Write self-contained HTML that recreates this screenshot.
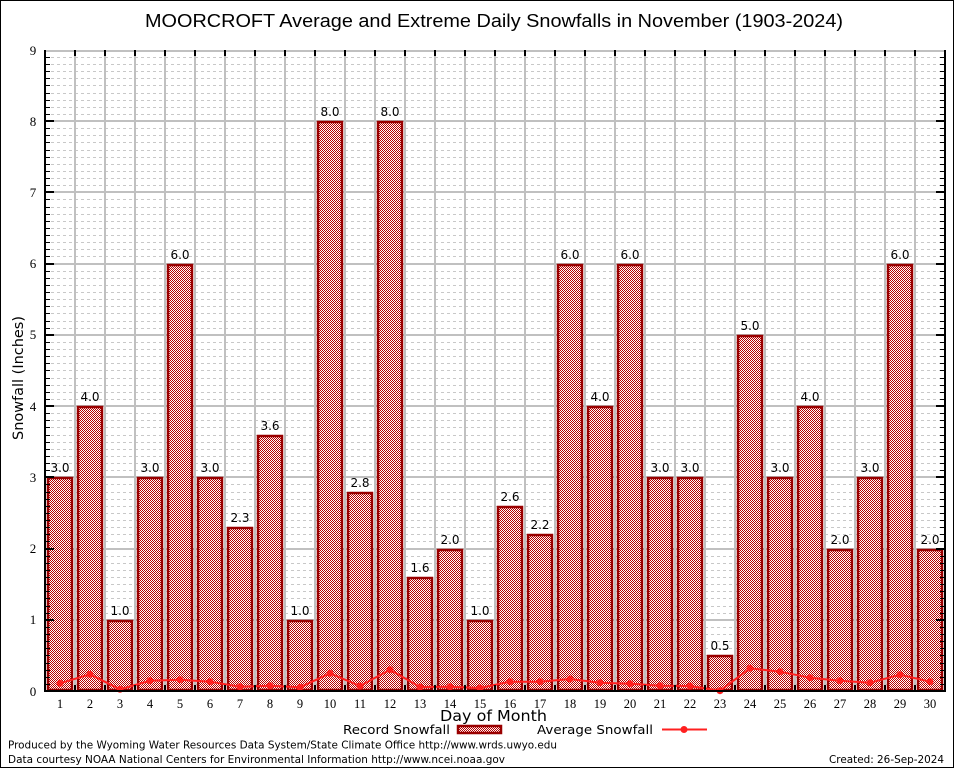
<!DOCTYPE html>
<html><head><meta charset="utf-8"><style>
html,body{margin:0;padding:0;background:#fff;}
svg{display:block;}
</style></head><body>
<svg width="954" height="768" viewBox="0 0 954 768" xmlns="http://www.w3.org/2000/svg">
<defs>
<pattern id="p" width="2" height="2" patternUnits="userSpaceOnUse">
<rect width="2" height="2" fill="#ffffff" shape-rendering="crispEdges"/>
<rect width="1" height="1" fill="#b80000" shape-rendering="crispEdges"/>
<rect x="1" y="1" width="1" height="1" fill="#b80000" shape-rendering="crispEdges"/>
</pattern>
</defs>
<rect x="0" y="0" width="954" height="768" fill="#fff"/>
<rect x="0.5" y="0.5" width="953" height="767" fill="none" stroke="#000" stroke-width="1"/>
<text x="494" y="27" text-anchor="middle" font-family="Liberation Sans, sans-serif" font-size="18.5" textLength="698" lengthAdjust="spacingAndGlyphs" fill="#000">MOORCROFT Average and Extreme Daily Snowfalls in November (1903-2024)</text>

<!-- dashed minor grid -->
<path fill="none" stroke="#c8c8c8" stroke-width="1" stroke-dasharray="3,3" d="
M45 684.5H945M45 677.5H945M45 670.5H945M45 663.5H945M45 655.5H945M45 648.5H945M45 641.5H945M45 634.5H945M45 627.5H945
M45 613.5H945M45 606.5H945M45 598.5H945M45 591.5H945M45 584.5H945M45 577.5H945M45 570.5H945M45 563.5H945M45 556.5H945
M45 541.5H945M45 534.5H945M45 527.5H945M45 520.5H945M45 513.5H945M45 506.5H945M45 499.5H945M45 492.5H945M45 484.5H945
M45 470.5H945M45 463.5H945M45 456.5H945M45 449.5H945M45 442.5H945M45 435.5H945M45 427.5H945M45 420.5H945M45 413.5H945
M45 399.5H945M45 392.5H945M45 385.5H945M45 378.5H945M45 370.5H945M45 363.5H945M45 356.5H945M45 349.5H945M45 342.5H945
M45 328.5H945M45 321.5H945M45 313.5H945M45 306.5H945M45 299.5H945M45 292.5H945M45 285.5H945M45 278.5H945M45 271.5H945
M45 256.5H945M45 249.5H945M45 242.5H945M45 235.5H945M45 228.5H945M45 221.5H945M45 214.5H945M45 207.5H945M45 199.5H945
M45 185.5H945M45 178.5H945M45 171.5H945M45 164.5H945M45 157.5H945M45 150.5H945M45 142.5H945M45 135.5H945M45 128.5H945
M45 114.5H945M45 107.5H945M45 100.5H945M45 93.5H945M45 85.5H945M45 78.5H945M45 71.5H945M45 64.5H945M45 57.5H945"/>
<!-- solid major grid -->
<path fill="none" stroke="#c0c0c0" stroke-width="2" d="
M45 620H945M45 549H945M45 477H945M45 406H945M45 335H945M45 264H945M45 192H945M45 121H945M45 51H945
M75 50V691M105 50V691M135 50V691M165 50V691M195 50V691M225 50V691M255 50V691M285 50V691M315 50V691M345 50V691
M375 50V691M405 50V691M435 50V691M465 50V691M495 50V691M525 50V691M555 50V691M585 50V691M615 50V691M645 50V691
M675 50V691M705 50V691M735 50V691M765 50V691M795 50V691M825 50V691M855 50V691M885 50V691M915 50V691"/>

<!-- bars -->
<g fill="url(#p)" stroke="#990000" stroke-width="2.5">
<rect x="48" y="478" width="24" height="212"/>
<rect x="78" y="407" width="24" height="283"/>
<rect x="108" y="621" width="24" height="69"/>
<rect x="138" y="478" width="24" height="212"/>
<rect x="168" y="265" width="24" height="425"/>
<rect x="198" y="478" width="24" height="212"/>
<rect x="228" y="528" width="24" height="162"/>
<rect x="258" y="436" width="24" height="254"/>
<rect x="288" y="621" width="24" height="69"/>
<rect x="318" y="122" width="24" height="568"/>
<rect x="348" y="493" width="24" height="197"/>
<rect x="378" y="122" width="24" height="568"/>
<rect x="408" y="578" width="24" height="112"/>
<rect x="438" y="550" width="24" height="140"/>
<rect x="468" y="621" width="24" height="69"/>
<rect x="498" y="507" width="24" height="183"/>
<rect x="528" y="535" width="24" height="155"/>
<rect x="558" y="265" width="24" height="425"/>
<rect x="588" y="407" width="24" height="283"/>
<rect x="618" y="265" width="24" height="425"/>
<rect x="648" y="478" width="24" height="212"/>
<rect x="678" y="478" width="24" height="212"/>
<rect x="708" y="656" width="24" height="34"/>
<rect x="738" y="336" width="24" height="354"/>
<rect x="768" y="478" width="24" height="212"/>
<rect x="798" y="407" width="24" height="283"/>
<rect x="828" y="550" width="24" height="140"/>
<rect x="858" y="478" width="24" height="212"/>
<rect x="888" y="265" width="24" height="425"/>
<rect x="918" y="550" width="24" height="140"/>
</g>

<!-- value labels -->
<g font-family="DejaVu Sans, sans-serif" font-size="12" text-anchor="middle" fill="#000">
<text x="60" y="472">3.0</text>
<text x="90" y="401">4.0</text>
<text x="120" y="615">1.0</text>
<text x="150" y="472">3.0</text>
<text x="180" y="259">6.0</text>
<text x="210" y="472">3.0</text>
<text x="240" y="522">2.3</text>
<text x="270" y="430">3.6</text>
<text x="300" y="615">1.0</text>
<text x="330" y="116">8.0</text>
<text x="360" y="487">2.8</text>
<text x="390" y="116">8.0</text>
<text x="420" y="572">1.6</text>
<text x="450" y="544">2.0</text>
<text x="480" y="615">1.0</text>
<text x="510" y="501">2.6</text>
<text x="540" y="529">2.2</text>
<text x="570" y="259">6.0</text>
<text x="600" y="401">4.0</text>
<text x="630" y="259">6.0</text>
<text x="660" y="472">3.0</text>
<text x="690" y="472">3.0</text>
<text x="720" y="650">0.5</text>
<text x="750" y="330">5.0</text>
<text x="780" y="472">3.0</text>
<text x="810" y="401">4.0</text>
<text x="840" y="544">2.0</text>
<text x="870" y="472">3.0</text>
<text x="900" y="259">6.0</text>
<text x="930" y="544">2.0</text>
</g>

<!-- average line -->
<polyline fill="none" stroke="#ff2020" stroke-width="2" stroke-linejoin="round" points="60,683.3 90,674.3 120,689.3 150,680.7 180,679.7 210,681.7 240,686.7 270,685.7 300,687.3 330,673.3 360,686 390,669.7 420,687 450,686.7 480,688 510,681.7 540,681.7 570,679 600,682.7 630,683.7 660,685.7 690,686 720,690.7 750,668.3 780,671.7 810,677.7 840,680.7 870,682.7 900,674.7 930,681.7"/>
<g fill="#ff2020">
<circle cx="60" cy="683.3" r="3.5"/><circle cx="90" cy="674.3" r="3.5"/><circle cx="120" cy="689.3" r="3.5"/><circle cx="150" cy="680.7" r="3.5"/><circle cx="180" cy="679.7" r="3.5"/>
<circle cx="210" cy="681.7" r="3.5"/><circle cx="240" cy="686.7" r="3.5"/><circle cx="270" cy="685.7" r="3.5"/><circle cx="300" cy="687.3" r="3.5"/><circle cx="330" cy="673.3" r="3.5"/>
<circle cx="360" cy="686" r="3.5"/><circle cx="390" cy="669.7" r="3.5"/><circle cx="420" cy="687" r="3.5"/><circle cx="450" cy="686.7" r="3.5"/><circle cx="480" cy="688" r="3.5"/>
<circle cx="510" cy="681.7" r="3.5"/><circle cx="540" cy="681.7" r="3.5"/><circle cx="570" cy="679" r="3.5"/><circle cx="600" cy="682.7" r="3.5"/><circle cx="630" cy="683.7" r="3.5"/>
<circle cx="660" cy="685.7" r="3.5"/><circle cx="690" cy="686" r="3.5"/><circle cx="720" cy="690.7" r="3.5"/><circle cx="750" cy="668.3" r="3.5"/><circle cx="780" cy="671.7" r="3.5"/>
<circle cx="810" cy="677.7" r="3.5"/><circle cx="840" cy="680.7" r="3.5"/><circle cx="870" cy="682.7" r="3.5"/><circle cx="900" cy="674.7" r="3.5"/><circle cx="930" cy="681.7" r="3.5"/>
</g>

<!-- ticks -->
<path fill="none" stroke="#000" stroke-width="1" d="
M45 684.5h5M45 677.5h5M45 670.5h5M45 663.5h5M45 655.5h5M45 648.5h5M45 641.5h5M45 634.5h5M45 627.5h5
M45 613.5h5M45 606.5h5M45 598.5h5M45 591.5h5M45 584.5h5M45 577.5h5M45 570.5h5M45 563.5h5M45 556.5h5
M45 541.5h5M45 534.5h5M45 527.5h5M45 520.5h5M45 513.5h5M45 506.5h5M45 499.5h5M45 492.5h5M45 484.5h5
M45 470.5h5M45 463.5h5M45 456.5h5M45 449.5h5M45 442.5h5M45 435.5h5M45 427.5h5M45 420.5h5M45 413.5h5
M45 399.5h5M45 392.5h5M45 385.5h5M45 378.5h5M45 370.5h5M45 363.5h5M45 356.5h5M45 349.5h5M45 342.5h5
M45 328.5h5M45 321.5h5M45 313.5h5M45 306.5h5M45 299.5h5M45 292.5h5M45 285.5h5M45 278.5h5M45 271.5h5
M45 256.5h5M45 249.5h5M45 242.5h5M45 235.5h5M45 228.5h5M45 221.5h5M45 214.5h5M45 207.5h5M45 199.5h5
M45 185.5h5M45 178.5h5M45 171.5h5M45 164.5h5M45 157.5h5M45 150.5h5M45 142.5h5M45 135.5h5M45 128.5h5
M45 114.5h5M45 107.5h5M45 100.5h5M45 93.5h5M45 85.5h5M45 78.5h5M45 71.5h5M45 64.5h5M45 57.5h5
M945 684.5h-5M945 677.5h-5M945 670.5h-5M945 663.5h-5M945 655.5h-5M945 648.5h-5M945 641.5h-5M945 634.5h-5M945 627.5h-5
M945 613.5h-5M945 606.5h-5M945 598.5h-5M945 591.5h-5M945 584.5h-5M945 577.5h-5M945 570.5h-5M945 563.5h-5M945 556.5h-5
M945 541.5h-5M945 534.5h-5M945 527.5h-5M945 520.5h-5M945 513.5h-5M945 506.5h-5M945 499.5h-5M945 492.5h-5M945 484.5h-5
M945 470.5h-5M945 463.5h-5M945 456.5h-5M945 449.5h-5M945 442.5h-5M945 435.5h-5M945 427.5h-5M945 420.5h-5M945 413.5h-5
M945 399.5h-5M945 392.5h-5M945 385.5h-5M945 378.5h-5M945 370.5h-5M945 363.5h-5M945 356.5h-5M945 349.5h-5M945 342.5h-5
M945 328.5h-5M945 321.5h-5M945 313.5h-5M945 306.5h-5M945 299.5h-5M945 292.5h-5M945 285.5h-5M945 278.5h-5M945 271.5h-5
M945 256.5h-5M945 249.5h-5M945 242.5h-5M945 235.5h-5M945 228.5h-5M945 221.5h-5M945 214.5h-5M945 207.5h-5M945 199.5h-5
M945 185.5h-5M945 178.5h-5M945 171.5h-5M945 164.5h-5M945 157.5h-5M945 150.5h-5M945 142.5h-5M945 135.5h-5M945 128.5h-5
M945 114.5h-5M945 107.5h-5M945 100.5h-5M945 93.5h-5M945 85.5h-5M945 78.5h-5M945 71.5h-5M945 64.5h-5M945 57.5h-5"/>
<path fill="none" stroke="#000" stroke-width="2" d="
M45 620h9M45 549h9M45 477h9M45 406h9M45 335h9M45 264h9M45 192h9M45 121h9
M945 620h-9M945 549h-9M945 477h-9M945 406h-9M945 335h-9M945 264h-9M945 192h-9M945 121h-9
M75 691v-6M105 691v-6M135 691v-6M165 691v-6M195 691v-6M225 691v-6M255 691v-6M285 691v-6M315 691v-6M345 691v-6
M375 691v-6M405 691v-6M435 691v-6M465 691v-6M495 691v-6M525 691v-6M555 691v-6M585 691v-6M615 691v-6M645 691v-6
M675 691v-6M705 691v-6M735 691v-6M765 691v-6M795 691v-6M825 691v-6M855 691v-6M885 691v-6M915 691v-6
M75 50v6M105 50v6M135 50v6M165 50v6M195 50v6M225 50v6M255 50v6M285 50v6M315 50v6M345 50v6
M375 50v6M405 50v6M435 50v6M465 50v6M495 50v6M525 50v6M555 50v6M585 50v6M615 50v6M645 50v6
M675 50v6M705 50v6M735 50v6M765 50v6M795 50v6M825 50v6M855 50v6M885 50v6M915 50v6"/>
<!-- axes -->
<path fill="none" stroke="#000" stroke-width="2" d="M45 50V692M44 691H946M945 50V692"/>

<!-- y tick labels -->
<g font-family="Liberation Serif, serif" font-size="13" text-anchor="middle" fill="#000">
<text x="33" y="696">0</text>
<text x="33" y="624">1</text>
<text x="33" y="553">2</text>
<text x="33" y="482">3</text>
<text x="33" y="411">4</text>
<text x="33" y="339">5</text>
<text x="33" y="268">6</text>
<text x="33" y="197">7</text>
<text x="33" y="126">8</text>
<text x="33" y="55">9</text>
</g>
<!-- x tick labels -->
<g font-family="Liberation Serif, serif" font-size="12.5" text-anchor="middle" fill="#000">
<text x="60" y="708">1</text><text x="90" y="708">2</text><text x="120" y="708">3</text><text x="150" y="708">4</text><text x="180" y="708">5</text>
<text x="210" y="708">6</text><text x="240" y="708">7</text><text x="270" y="708">8</text><text x="300" y="708">9</text><text x="330" y="708">10</text>
<text x="360" y="708">11</text><text x="390" y="708">12</text><text x="420" y="708">13</text><text x="450" y="708">14</text><text x="480" y="708">15</text>
<text x="510" y="708">16</text><text x="540" y="708">17</text><text x="570" y="708">18</text><text x="600" y="708">19</text><text x="630" y="708">20</text>
<text x="660" y="708">21</text><text x="690" y="708">22</text><text x="720" y="708">23</text><text x="750" y="708">24</text><text x="780" y="708">25</text>
<text x="810" y="708">26</text><text x="840" y="708">27</text><text x="870" y="708">28</text><text x="900" y="708">29</text><text x="930" y="708">30</text>
</g>

<text x="493.5" y="721" text-anchor="middle" font-family="DejaVu Sans, sans-serif" font-size="15.5" textLength="107" lengthAdjust="spacingAndGlyphs" fill="#000">Day of Month</text>
<text transform="translate(23,378) rotate(-90)" x="0" y="0" text-anchor="middle" font-family="DejaVu Sans, sans-serif" font-size="14.5" textLength="124" lengthAdjust="spacingAndGlyphs" fill="#000">Snowfall (Inches)</text>

<!-- legend -->
<text x="343" y="734" font-family="DejaVu Sans, sans-serif" font-size="12.5" textLength="107" lengthAdjust="spacingAndGlyphs" fill="#000">Record Snowfall</text>
<rect x="458" y="726" width="43" height="7" fill="url(#p)" stroke="#990000" stroke-width="2.5"/>
<text x="537" y="734" font-family="DejaVu Sans, sans-serif" font-size="12.5" textLength="116" lengthAdjust="spacingAndGlyphs" fill="#000">Average Snowfall</text>
<path d="M662 729.5H707" stroke="#ff2020" stroke-width="2"/>
<circle cx="684" cy="729.5" r="3.5" fill="#ff2020"/>

<!-- footer -->
<text x="8" y="748.5" font-family="DejaVu Sans, sans-serif" font-size="11" textLength="549" lengthAdjust="spacingAndGlyphs" fill="#000">Produced by the Wyoming Water Resources Data System/State Climate Office http://www.wrds.uwyo.edu</text>
<text x="8" y="763" font-family="DejaVu Sans, sans-serif" font-size="11" textLength="497" lengthAdjust="spacingAndGlyphs" fill="#000">Data courtesy NOAA National Centers for Environmental Information http://www.ncei.noaa.gov</text>
<text x="944" y="763" text-anchor="end" font-family="DejaVu Sans, sans-serif" font-size="11" textLength="115" lengthAdjust="spacingAndGlyphs" fill="#000">Created: 26-Sep-2024</text>
</svg>
</body></html>
